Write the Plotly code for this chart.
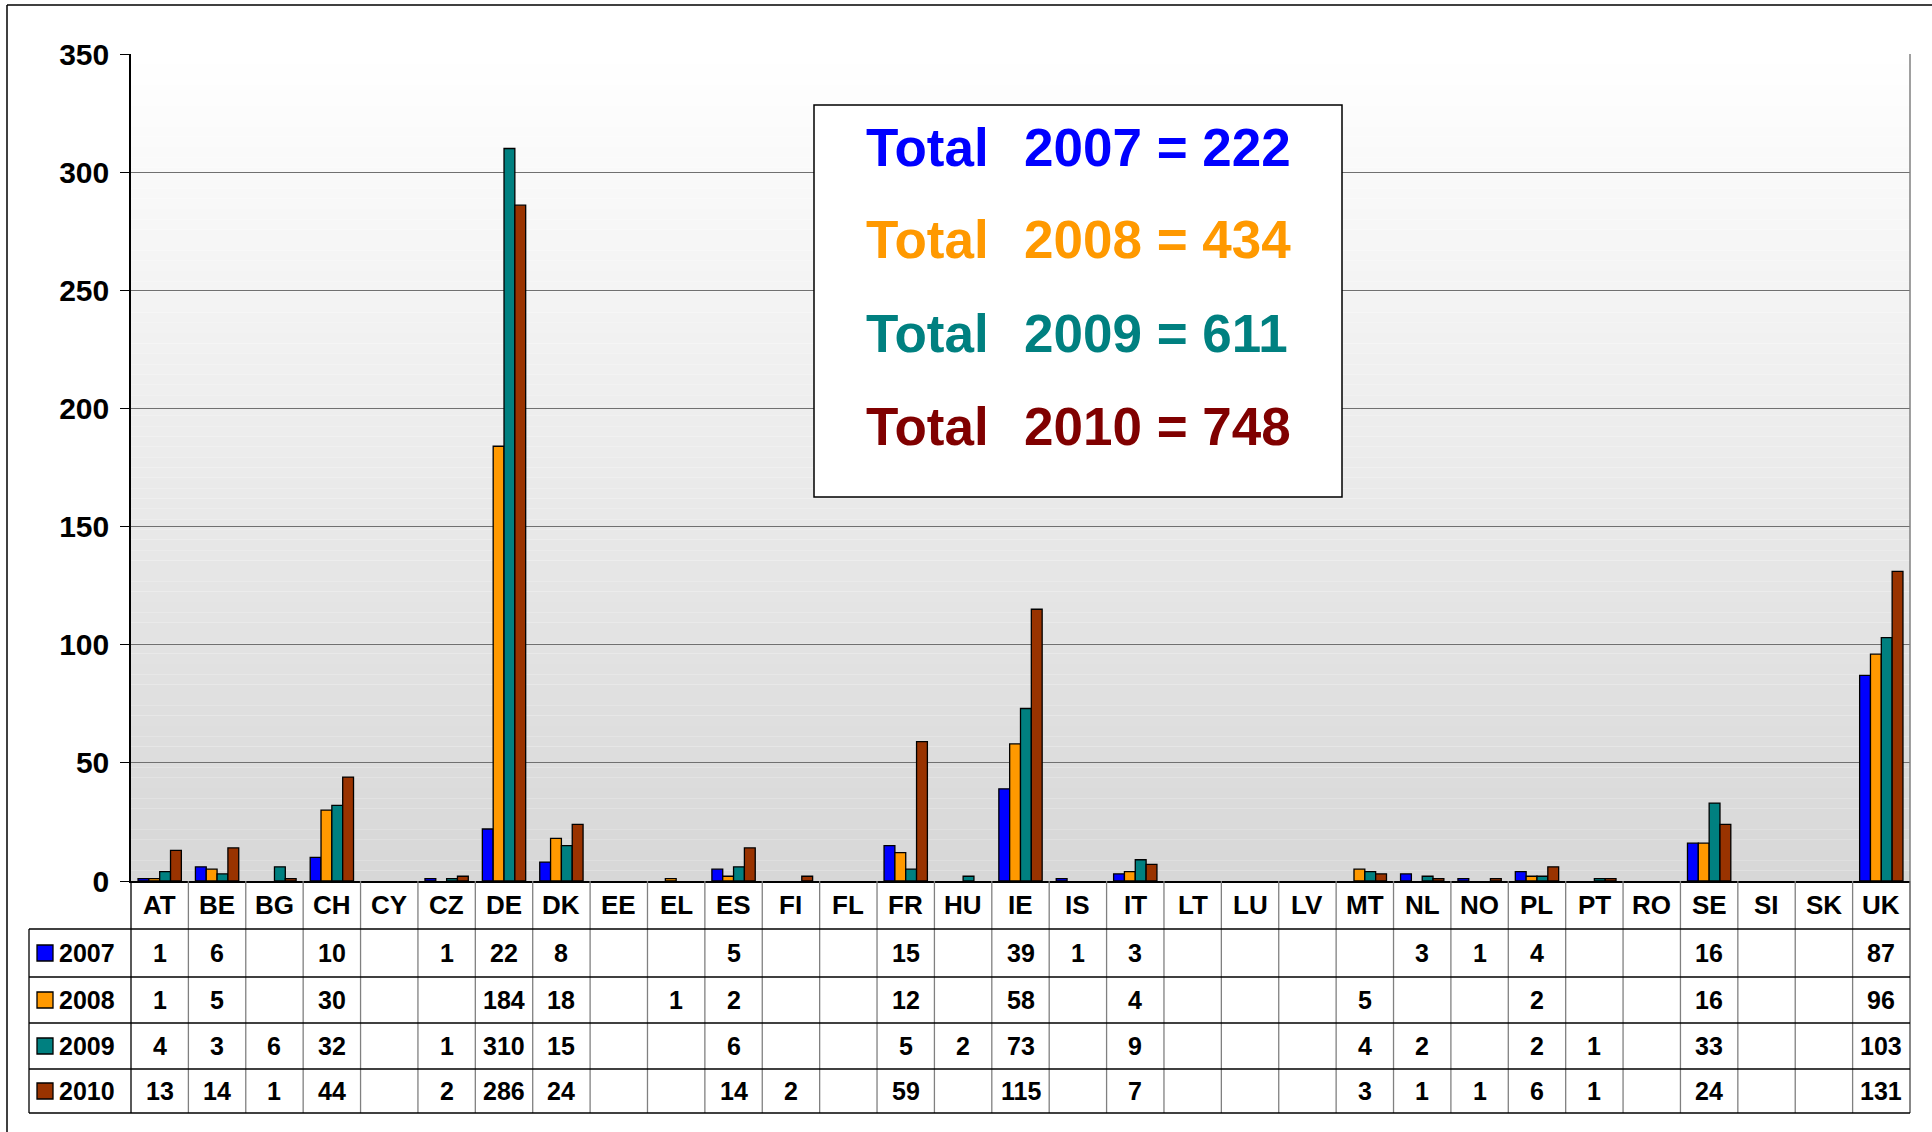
import plotly.graph_objects as go

# ---------------- data ----------------
countries = ["AT", "BE", "BG", "CH", "CY", "CZ", "DE", "DK", "EE", "EL", "ES", "FI", "FL",
             "FR", "HU", "IE", "IS", "IT", "LT", "LU", "LV", "MT", "NL", "NO", "PL", "PT",
             "RO", "SE", "SI", "SK", "UK"]
years = ["2007", "2008", "2009", "2010"]
v2007 = [1, 6, None, 10, None, 1, 22, 8, None, None, 5, None, None, 15, None, 39, 1, 3,
         None, None, None, None, 3, 1, 4, None, None, 16, None, None, 87]
v2008 = [1, 5, None, 30, None, None, 184, 18, None, 1, 2, None, None, 12, None, 58, None, 4,
         None, None, None, 5, None, None, 2, None, None, 16, None, None, 96]
v2009 = [4, 3, 6, 32, None, 1, 310, 15, None, None, 6, None, None, 5, 2, 73, None, 9,
         None, None, None, 4, 2, None, 2, 1, None, 33, None, None, 103]
v2010 = [13, 14, 1, 44, None, 2, 286, 24, None, None, 14, 2, None, 59, None, 115, None, 7,
         None, None, None, 3, 1, 1, 6, 1, None, 24, None, None, 131]
series = [v2007, v2008, v2009, v2010]
totals = [222, 434, 611, 748]
y_ticks = [0, 50, 100, 150, 200, 250, 300, 350]

bar_colors = ["#0000FF", "#FF9900", "#008080", "#993300"]
text_colors = ["#0000FF", "#FF9900", "#008080", "#800000"]

# ---------------- geometry (pixels) ----------------
W, H = 1932, 1132
L, R, T, B = 131, 1910, 54, 881
FONT = "Liberation Sans, Arial, sans-serif"


def px_x(px):
    return (px - L) / (R - L)


def px_y(py):
    return (B - py) / (B - T)


fig = go.Figure()
for name, vals, col in zip(years, series, bar_colors):
    fig.add_trace(go.Bar(x=countries, y=vals, name=name,
                         marker=dict(color=col, line=dict(color="black", width=1.3))))

shapes = []
# gradient background (white at top -> light grey at bottom)
N = 80
ymax = y_ticks[-1]
for i in range(N):
    f = i / (N - 1)
    g = int(round(215 + (255 - 215) * f))
    shapes.append(dict(type="rect", xref="paper", yref="y", layer="below",
                       x0=0, x1=1, y0=ymax * i / N, y1=ymax * (i + 1) / N,
                       fillcolor=f"rgb({g},{g},{g})", line=dict(width=0)))

# right plot border
shapes.append(dict(type="line", xref="paper", yref="paper", x0=1, x1=1, y0=0, y1=1,
                   line=dict(color="#808080", width=1.5)))

# table grid
row_lines = [929, 977, 1023, 1069, 1113]
tb = px_y(row_lines[-1])
for i in range(len(countries) - 1):
    shapes.append(dict(type="line", xref="x", yref="paper", x0=i + 0.5, x1=i + 0.5,
                       y0=0, y1=tb, line=dict(color="#808080", width=1.3)))
shapes.append(dict(type="line", xref="paper", yref="paper", x0=1, x1=1, y0=0, y1=tb,
                   line=dict(color="#606060", width=1.5)))
shapes.append(dict(type="line", xref="paper", yref="paper", x0=0, x1=0, y0=0, y1=tb,
                   line=dict(color="black", width=1.3)))
shapes.append(dict(type="line", xref="paper", yref="paper", x0=px_x(29), x1=px_x(29),
                   y0=px_y(row_lines[0]), y1=tb, line=dict(color="black", width=1.3)))
for py in row_lines:
    shapes.append(dict(type="line", xref="paper", yref="paper", x0=px_x(29), x1=1,
                       y0=px_y(py), y1=px_y(py), line=dict(color="black", width=1.3)))

annotations = []
header_c = 905
row_c = [953, 1000, 1046, 1091]
for c in countries:
    annotations.append(dict(x=c, xref="x", y=px_y(header_c), yref="paper",
                            xanchor="center", yanchor="middle",
                            text=f"<b>{c}</b>", showarrow=False,
                            font=dict(family=FONT, size=26, color="black")))
for r, (name, vals, col) in enumerate(zip(years, series, bar_colors)):
    yc = px_y(row_c[r])
    shapes.append(dict(type="rect", xref="paper", yref="paper",
                       x0=px_x(37), x1=px_x(53), y0=px_y(row_c[r] + 8), y1=px_y(row_c[r] - 8),
                       fillcolor=col, line=dict(color="black", width=1.3)))
    annotations.append(dict(x=px_x(57), xref="paper", y=yc, yref="paper",
                            xanchor="left", yanchor="middle",
                            text=f"<b>{name}</b>", showarrow=False,
                            font=dict(family=FONT, size=25, color="black")))
    for c, v in zip(countries, vals):
        if v is None:
            continue
        annotations.append(dict(x=c, xref="x", y=yc, yref="paper",
                                xanchor="center", yanchor="middle",
                                text=f"<b>{v}</b>", showarrow=False,
                                font=dict(family=FONT, size=25, color="black")))

# totals box
shapes.append(dict(type="rect", xref="paper", yref="paper", layer="above",
                   x0=px_x(814), x1=px_x(1342), y0=px_y(497), y1=px_y(105),
                   fillcolor="white", line=dict(color="black", width=1.5)))
text_c = [148, 241, 334, 427]
for yr, tot, col, yc in zip(years, totals, text_colors, text_c):
    annotations.append(dict(x=px_x(864), xref="paper", y=px_y(yc - 1), yref="paper",
                            xanchor="left", yanchor="middle", text="<b>Total</b>",
                            showarrow=False, font=dict(family=FONT, size=53, color=col)))
    annotations.append(dict(x=px_x(1022), xref="paper", y=px_y(yc - 1), yref="paper",
                            xanchor="left", yanchor="middle", text=f"<b>{yr} = {tot}</b>",
                            showarrow=False, font=dict(family=FONT, size=53, color=col)))

# outer frame
shapes.append(dict(type="line", xref="paper", yref="paper", x0=px_x(7), x1=px_x(W),
                   y0=px_y(5), y1=px_y(5), line=dict(color="black", width=1.5)))
shapes.append(dict(type="line", xref="paper", yref="paper", x0=px_x(7), x1=px_x(7),
                   y0=px_y(5), y1=px_y(H), line=dict(color="black", width=1.5)))

fig.update_layout(
    width=W, height=H,
    margin=dict(l=L, r=W - R, t=T, b=H - B, pad=0),
    paper_bgcolor="white", plot_bgcolor="rgba(0,0,0,0)",
    barmode="group", bargap=0.245, bargroupgap=0,
    showlegend=False,
    shapes=shapes, annotations=annotations,
    font=dict(family=FONT, color="black"),
)
fig.update_xaxes(type="category", range=[-0.5, len(countries) - 0.5], showticklabels=False,
                 showline=True, linecolor="black", linewidth=1.5, ticks="", showgrid=False,
                 zeroline=False, fixedrange=True)
fig.update_yaxes(range=[0, ymax], tickvals=y_ticks, ticktext=[f"<b>{t}</b>" for t in y_ticks],
                 tickfont=dict(family=FONT, size=30, color="black"),
                 showgrid=True, gridcolor="#707070", gridwidth=1,
                 showline=True, linecolor="black", linewidth=1.5,
                 ticks="outside", ticklen=9, tickcolor="black", tickwidth=1.3,
                 ticklabelstandoff=5, zeroline=False, fixedrange=True)

fig.write_html("out.html", config={"displayModeBar": False},
               post_script="document.body.style.margin='0';document.body.style.overflow='hidden';")
